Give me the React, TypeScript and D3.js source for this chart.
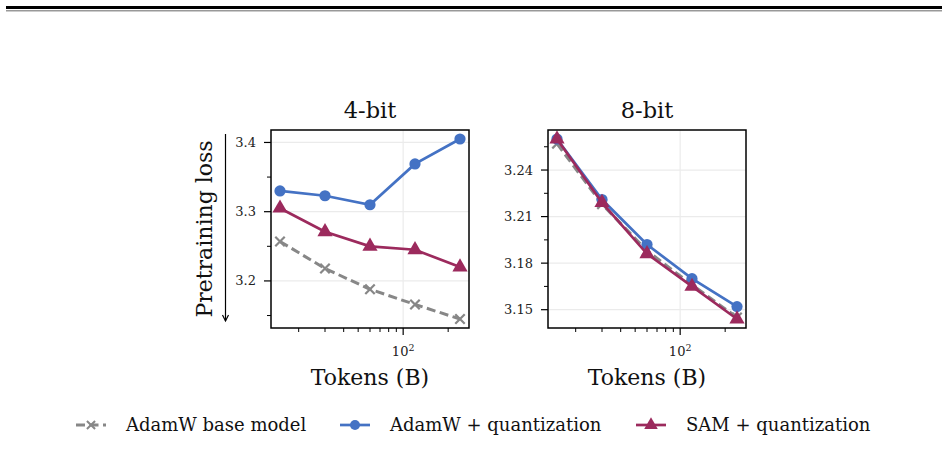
import React, { useEffect, useRef } from 'react';
import * as d3 from 'd3';

// training tokens (billions) for each run
const tokens = [15, 30, 60, 120, 240];

// pretraining loss, shared full-precision baseline
const baseLoss = [3.257, 3.218, 3.188, 3.166, 3.145];

// 4-bit quantized runs
const adamLoss4 = [3.330, 3.323, 3.310, 3.369, 3.405];
const samLoss4 = [3.305, 3.271, 3.250, 3.245, 3.220];

// 8-bit quantized runs
const adamLoss8 = [3.260, 3.221, 3.192, 3.170, 3.152];
const samLoss8 = [3.260, 3.219, 3.186, 3.165, 3.144];

const panelTitles = ['4-bit', '8-bit'];
const yMajor4 = [3.2, 3.3, 3.4];
const yMinor4 = [3.15, 3.25, 3.35];
const yMajor8 = [3.15, 3.18, 3.21, 3.24];
const yMinor8 = [3.165, 3.195, 3.225, 3.255];
const xMinor = [20, 30, 40, 50, 60, 70, 80, 90, 200];

const seriesNames = ['AdamW base model', 'AdamW + quantization', 'SAM + quantization'];
const GRAY = '#878787';
const BLUE = '#4472c4';
const RED = '#9c2a5d';
const FONT = '"DejaVu Serif", serif';

const W = 948;
const H = 468;

function drawPanel(
  svg: d3.Selection<SVGSVGElement, unknown, null, undefined>,
  left: number,
  title: string,
  adam: number[],
  sam: number[],
  yMajor: number[],
  yMinor: number[],
  yFmt: (v: number) => string,
) {
  const top = 130;
  const size = 198;
  const g = svg.append('g').attr('transform', `translate(${left},${top})`);

  // log x with matplotlib-style 5% margins
  const lx0 = Math.log10(d3.min(tokens)!);
  const lx1 = Math.log10(d3.max(tokens)!);
  const lpad = (lx1 - lx0) * 0.05;
  const x = d3.scaleLog().domain([10 ** (lx0 - lpad), 10 ** (lx1 + lpad)]).range([0, size]);

  const all = [...baseLoss, ...adam, ...sam];
  const y0 = d3.min(all)!;
  const y1 = d3.max(all)!;
  const ypad = (y1 - y0) * 0.05;
  const y = d3.scaleLinear().domain([y0 - ypad, y1 + ypad]).range([size, 0]);

  // grid
  g.selectAll('.gy').data(yMajor).join('line')
    .attr('x1', 0).attr('x2', size)
    .attr('y1', (d) => y(d)).attr('y2', (d) => y(d))
    .attr('stroke', '#ebebeb').attr('stroke-width', 1.2);
  g.append('line')
    .attr('x1', x(100)).attr('x2', x(100)).attr('y1', 0).attr('y2', size)
    .attr('stroke', '#ebebeb').attr('stroke-width', 1.2);

  // y ticks
  g.selectAll('.ty').data(yMajor).join('line')
    .attr('x1', -7).attr('x2', 0).attr('y1', (d) => y(d)).attr('y2', (d) => y(d))
    .attr('stroke', '#000').attr('stroke-width', 1.2);
  g.selectAll('.tym').data(yMinor).join('line')
    .attr('x1', -4).attr('x2', 0).attr('y1', (d) => y(d)).attr('y2', (d) => y(d))
    .attr('stroke', '#000').attr('stroke-width', 1);
  g.selectAll('.ly').data(yMajor).join('text')
    .attr('x', -15).attr('y', (d) => y(d)).attr('dy', '0.35em')
    .attr('text-anchor', 'end').attr('font-family', FONT).attr('font-size', 13)
    .attr('fill', '#222').text(yFmt);

  // x ticks
  g.append('line')
    .attr('x1', x(100)).attr('x2', x(100)).attr('y1', size).attr('y2', size + 7)
    .attr('stroke', '#000').attr('stroke-width', 1.2);
  g.selectAll('.txm').data(xMinor).join('line')
    .attr('x1', (d) => x(d)).attr('x2', (d) => x(d)).attr('y1', size).attr('y2', size + 4)
    .attr('stroke', '#000').attr('stroke-width', 1);
  const xl = g.append('text')
    .attr('x', x(100)).attr('y', size + 28)
    .attr('text-anchor', 'middle').attr('font-family', FONT).attr('font-size', 13).attr('fill', '#222');
  xl.append('tspan').text('10');
  xl.append('tspan').attr('dy', -5.5).attr('font-size', 9.5).text('2');

  g.append('text')
    .attr('x', size / 2).attr('y', size + 57)
    .attr('text-anchor', 'middle').attr('font-family', FONT).attr('font-size', 22)
    .attr('fill', '#111').text('Tokens (B)');

  g.append('text')
    .attr('x', size / 2).attr('y', -12)
    .attr('text-anchor', 'middle').attr('font-family', FONT).attr('font-size', 22.5)
    .attr('fill', '#111').text(title);

  const line = d3.line<number>().x((_, i) => x(tokens[i])).y((d) => y(d));

  // baseline: dashed gray with x markers
  g.append('path').attr('d', line(baseLoss)).attr('fill', 'none')
    .attr('stroke', GRAY).attr('stroke-width', 3).attr('stroke-dasharray', '9,4.5');
  const cross = d3.symbol().type(d3.symbolX).size(60);
  g.selectAll('.mb').data(baseLoss).join('path')
    .attr('d', cross)
    .attr('transform', (d, i) => `translate(${x(tokens[i])},${y(d)})`)
    .attr('fill', 'none').attr('stroke', GRAY).attr('stroke-width', 2.2);

  g.append('path').attr('d', line(adam)).attr('fill', 'none')
    .attr('stroke', BLUE).attr('stroke-width', 2.7);
  g.selectAll('.ma').data(adam).join('circle')
    .attr('cx', (_, i) => x(tokens[i])).attr('cy', (d) => y(d)).attr('r', 5.6)
    .attr('fill', BLUE);

  g.append('path').attr('d', line(sam)).attr('fill', 'none')
    .attr('stroke', RED).attr('stroke-width', 2.7);
  const tri = d3.symbol().type(d3.symbolTriangle).size(100);
  g.selectAll('.ms').data(sam).join('path')
    .attr('d', tri)
    .attr('transform', (d, i) => `translate(${x(tokens[i])},${y(d)})`)
    .attr('fill', RED);

  // frame
  g.append('rect').attr('width', size).attr('height', size)
    .attr('fill', 'none').attr('stroke', '#000').attr('stroke-width', 1.5);
}

function drawChart(ref: React.RefObject<SVGSVGElement>) {
  const svg = d3.select(ref.current!);
  svg.selectAll('*').remove();

  // page rules above the figure
  svg.append('rect').attr('x', 6).attr('y', 6).attr('width', 936).attr('height', 3).attr('fill', '#000');
  svg.append('rect').attr('x', 6).attr('y', 10).attr('width', 936).attr('height', 1.5).attr('fill', '#999');

  drawPanel(svg, 271, panelTitles[0], adamLoss4, samLoss4, yMajor4, yMinor4, d3.format('.1f'));
  drawPanel(svg, 548, panelTitles[1], adamLoss8, samLoss8, yMajor8, yMinor8, d3.format('.2f'));

  // shared y label with "lower is better" arrow
  svg.append('text')
    .attr('transform', 'translate(212,229) rotate(-90)')
    .attr('text-anchor', 'middle').attr('font-family', FONT).attr('font-size', 22)
    .attr('fill', '#111').text('Pretraining loss');
  svg.append('line').attr('x1', 225.5).attr('x2', 225.5).attr('y1', 134).attr('y2', 321)
    .attr('stroke', '#000').attr('stroke-width', 1.2);
  svg.append('path').attr('d', 'M222.5,315 L225.5,321 L228.5,315')
    .attr('fill', 'none').attr('stroke', '#000').attr('stroke-width', 1.2);

  // legend
  const legY = 425;
  const legX = [76, 340, 636];
  const colors = [GRAY, BLUE, RED];
  seriesNames.forEach((name, i) => {
    const lg = svg.append('g').attr('transform', `translate(${legX[i]},${legY})`);
    lg.append('line').attr('x1', 0).attr('x2', 30).attr('y1', 0).attr('y2', 0)
      .attr('stroke', colors[i]).attr('stroke-width', i === 0 ? 3 : 2.7)
      .attr('stroke-dasharray', i === 0 ? '9,4.5' : null);
    if (i === 0) {
      lg.append('path').attr('d', d3.symbol().type(d3.symbolX).size(45)())
        .attr('transform', 'translate(15,0)').attr('fill', 'none')
        .attr('stroke', GRAY).attr('stroke-width', 2);
    } else if (i === 1) {
      lg.append('circle').attr('cx', 15).attr('r', 5).attr('fill', BLUE);
    } else {
      lg.append('path').attr('d', d3.symbol().type(d3.symbolTriangle).size(80)())
        .attr('transform', 'translate(15,0)').attr('fill', RED);
    }
    lg.append('text').attr('x', 50).attr('y', 0).attr('dy', '0.35em')
      .attr('font-family', FONT).attr('font-size', 18).attr('fill', '#111').text(name);
  });
}

export default function App() {
  const ref = useRef<SVGSVGElement>(null);
  useEffect(() => {
    drawChart(ref);
  }, []);
  return (
    <svg
      ref={ref}
      width={W}
      height={H}
      style={{ position: 'absolute', left: 0, top: 0, background: '#fff' }}
    />
  );
}
